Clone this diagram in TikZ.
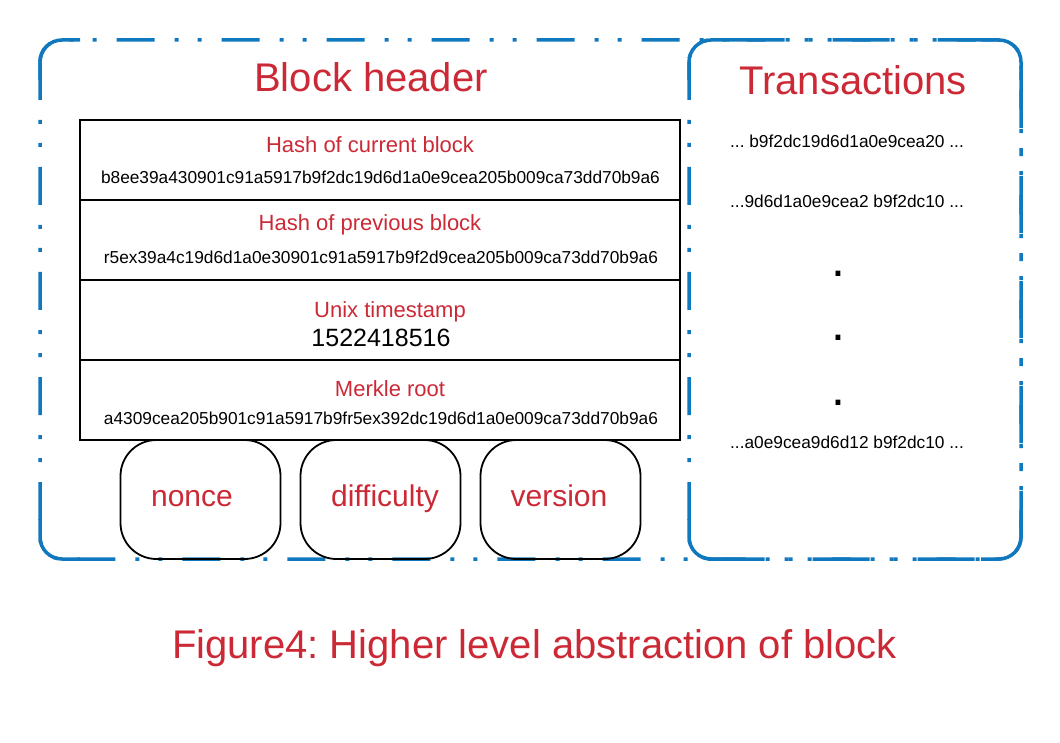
\documentclass[tikz,border=0pt]{standalone}
\usepackage{fontspec}
\setmainfont{Liberation Sans}
\frenchspacing
\definecolor{hred}{RGB}{204,41,54}
\definecolor{hblue}{RGB}{16,120,190}
\tikzset{
  outerbox/.style={draw=hblue, line width=3.5pt, rounded corners=22pt,
    dash pattern=on 38pt off 20pt on 4pt off 19pt on 4pt off 20pt},
  cornerline/.style={draw=hblue, line width=3.5pt, solid},
  rowbox/.style={draw=black, line width=2pt, minimum width=600pt, minimum height=80pt, inner sep=0pt},
  fieldbox/.style={draw=black, line width=1.8pt, rounded corners=36pt, minimum width=160pt, minimum height=119pt, inner sep=0pt},
  bigtitle/.style={text=hred, font=\fontsize{40}{48}\selectfont, anchor=base, inner sep=0pt},
  rowtitle/.style={text=hred, font=\fontsize{22}{26}\selectfont, anchor=base, inner sep=0pt},
  hashtext/.style={text=black, font=\fontsize{17.3}{20}\selectfont, anchor=base, inner sep=0pt},
  fieldtext/.style={text=hred, font=\fontsize{30}{36}\selectfont, anchor=base, inner sep=0pt},
  dotmark/.style={text=black, font=\fontsize{50}{50}\selectfont, anchor=base, inner sep=0pt},
}
\begin{document}
\begin{tikzpicture}[x=1pt, y=-1pt]
\useasboundingbox[fill=white] (0,0) rectangle (1060,743);
% outer dashed boxes
\draw[outerbox] (40,40) rectangle (1021,559);
\draw[outerbox] (689,40) rectangle (1021,559);
% solid corners
\draw[cornerline] (40,80) -- (40,62) arc[start angle=180,end angle=270,radius=22] -- (80,40);
\draw[cornerline] (80,559) -- (62,559) arc[start angle=90,end angle=180,radius=22] -- (40,519);
\draw[cornerline] (689,80) -- (689,62) arc[start angle=180,end angle=270,radius=22] -- (729,40);
\draw[cornerline] (729,559) -- (711,559) arc[start angle=90,end angle=180,radius=22] -- (689,519);
\draw[cornerline] (981,40) -- (999,40) arc[start angle=270,end angle=360,radius=22] -- (1021,80);
\draw[cornerline] (1021,519) -- (1021,537) arc[start angle=0,end angle=90,radius=22] -- (981,559);
% titles
\node[bigtitle] (bh) at (371,92) {Block header};
\node[bigtitle] (tx) at (853,95) {Transactions};
% table rows
\node[rowbox] (r1) at (380,160) {};
\node[rowbox] (r2) at (380,240) {};
\node[rowbox] (r3) at (380,320) {};
\node[rowbox] (r4) at (380,400) {};
\node[rowtitle] (t1) at (370,153) {Hash of current block};
\node[hashtext] (h1) at (380.5,184) {b8ee39a430901c91a5917b9f2dc19d6d1a0e9cea205b009ca73dd70b9a6};
\node[rowtitle] (t2) at (370,231) {Hash of previous block};
\node[hashtext] (h2) at (381,264) {r5ex39a4c19d6d1a0e30901c91a5917b9f2d9cea205b009ca73dd70b9a6};
\node[rowtitle] (t3) at (390,317) {Unix timestamp};
\node[text=black, font=\fontsize{25}{30}\selectfont, anchor=base, inner sep=0pt] (h3) at (381,346) {1522418516};
\node[rowtitle] (t4) at (390,396) {Merkle root};
\node[hashtext] (h4) at (381,424) {a4309cea205b901c91a5917b9fr5ex392dc19d6d1a0e009ca73dd70b9a6};
% field boxes
\node[fieldbox] (nb) at (200.5,499.5) {};
\node[fieldbox] (db) at (380.5,499.5) {};
\node[fieldbox] (vb) at (560.5,499.5) {};
\node[fieldtext] (nt) at (192,506) {nonce};
\node[fieldtext] (dt) at (385,506) {difficulty};
\node[fieldtext] (vt) at (559,506) {version};
% transactions
\node[hashtext] (x1) at (847,148) {... b9f2dc19d6d1a0e9cea20 ...};
\node[hashtext] (x2) at (847,208) {...9d6d1a0e9cea2 b9f2dc10 ...};
\node[dotmark] (d1) at (838,277) {.};
\node[dotmark] (d2) at (838,341) {.};
\node[dotmark] (d3) at (838,405) {.};
\node[hashtext] (x3) at (847,448) {...a0e9cea9d6d12 b9f2dc10 ...};
% caption
\node[bigtitle] (cap) at (534.5,658) {Figure4: Higher level abstraction of block};
\end{tikzpicture}
\end{document}
